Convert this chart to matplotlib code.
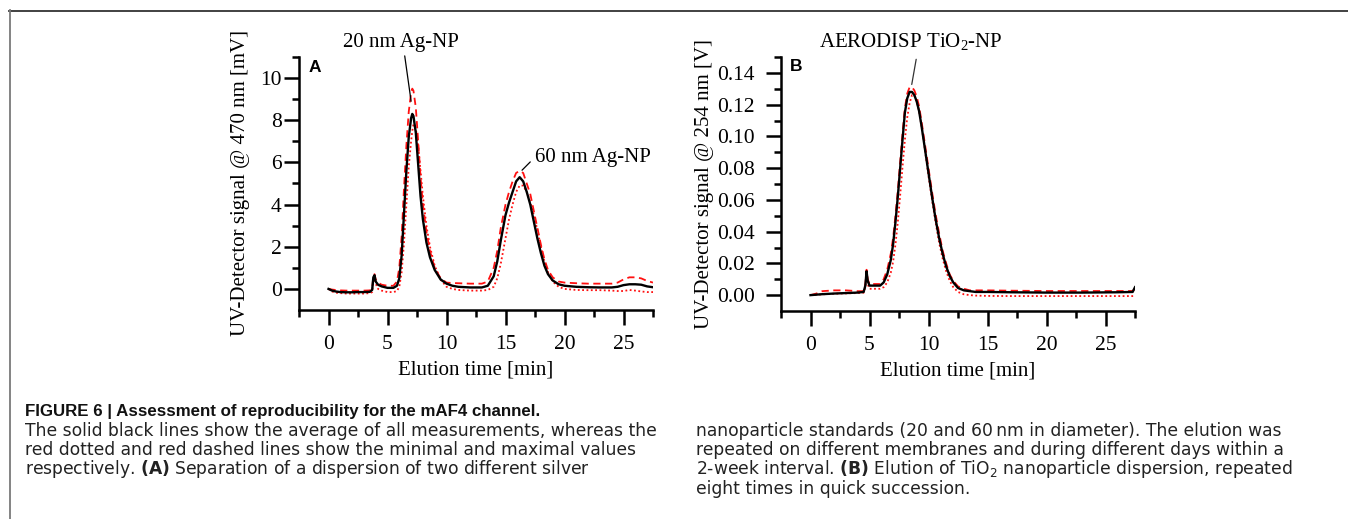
import matplotlib
matplotlib.use('Agg')
import matplotlib.pyplot as plt
from matplotlib.ticker import FixedLocator, FixedFormatter
from matplotlib.lines import Line2D

plt.rcParams['font.family'] = ['Liberation Serif', 'DejaVu Serif']
plt.rcParams['mathtext.fontset'] = 'custom'
plt.rcParams['mathtext.rm'] = 'DejaVu Sans'
plt.rcParams['mathtext.bf'] = 'DejaVu Sans:bold'

# ---------------- data ----------------
# Panel A: Ag-NP separation (signal in mV)
time_a = [0, 0.3, 0.6, 1, 1.5, 2, 2.5, 3, 3.5, 3.7, 3.8, 3.9, 4.0, 4.2, 4.5, 5.0, 5.5, 5.8,
          6.0, 6.2, 6.4, 6.6, 6.8, 7.0, 7.1, 7.2, 7.4, 7.6, 7.8, 8.0, 8.3, 8.6, 9.0, 9.5,
          10, 10.5, 11, 12, 13, 13.5, 14, 14.3, 14.6, 15, 15.3, 15.6, 15.9, 16.2, 16.5,
          16.8, 17.1, 17.4, 17.7, 18, 18.3, 18.6, 19, 19.5, 20, 21, 22, 23, 24, 24.5, 25,
          25.5, 26, 26.5, 27, 27.5]
avg_a = [0.0, -0.08, -0.12, -0.15, -0.16, -0.16, -0.15, -0.15, -0.14, -0.05, 0.55, 0.65,
         0.35, 0.2, 0.12, 0.05, 0.05, 0.15,
         0.5, 1.6, 3.6, 5.6, 7.2, 8.1, 8.3, 8.2, 7.4, 5.9, 4.4, 3.3, 2.2, 1.5, 0.9, 0.45,
         0.25, 0.15, 0.1, 0.07, 0.07, 0.15, 0.6, 1.3, 2.3, 3.5, 4.1, 4.6, 5.1, 5.3, 5.1,
         4.6, 4.0, 3.2, 2.4, 1.7, 1.1, 0.7, 0.4, 0.22, 0.15, 0.1, 0.08, 0.07, 0.07, 0.1, 0.18,
         0.22, 0.22, 0.2, 0.12, 0.08]
max_a = [0.0, -0.03, -0.05, -0.07, -0.08, -0.08, -0.08, -0.08, -0.07, 0.0, 0.6, 0.7,
         0.45, 0.3, 0.2, 0.15, 0.15, 0.35,
         1.0, 2.5, 4.8, 6.8, 8.4, 9.3, 9.5, 9.4, 8.6, 7.0, 5.3, 4.0, 2.7, 1.8, 1.0, 0.5,
         0.3, 0.28, 0.27, 0.25, 0.25, 0.35, 1.0, 1.8, 2.9, 4.0, 4.6, 5.1, 5.5, 5.6, 5.5,
         5.0, 4.5, 3.7, 2.9, 2.1, 1.4, 0.9, 0.55, 0.35, 0.3, 0.27, 0.25, 0.25, 0.25, 0.3, 0.45,
         0.55, 0.55, 0.5, 0.38, 0.3]
min_a = [0.0, -0.12, -0.18, -0.2, -0.22, -0.22, -0.22, -0.22, -0.2, -0.15, 0.35, 0.5,
         0.25, 0.0, -0.08, -0.15, -0.15, -0.1,
         0.1, 0.8, 2.2, 4.0, 5.8, 7.0, 7.5, 7.8, 7.6, 6.8, 5.6, 4.4, 3.0, 2.0, 1.1, 0.45,
         0.1, 0.0, -0.05, -0.08, -0.08, -0.05, 0.1, 0.5, 1.2, 2.4, 3.3, 4.0, 4.6, 4.9, 4.9,
         4.6, 4.1, 3.5, 2.8, 2.0, 1.3, 0.8, 0.35, 0.1, 0.0, -0.05, -0.06, -0.06, -0.08, -0.1, -0.1,
         -0.05, -0.08, -0.12, -0.15, -0.15]

# Panel B: TiO2-NP elution (signal in V)
time_b = [0, 0.5, 1, 2, 3, 4, 4.5, 4.65, 4.75, 4.85, 5.0, 5.3, 5.6, 5.9, 6.2, 6.5, 6.8,
          7.0, 7.2, 7.4, 7.6, 7.8, 8.0, 8.2, 8.4, 8.6, 8.8, 9.0, 9.2, 9.4, 9.6, 9.8, 10.0,
          10.3, 10.6, 10.9, 11.2, 11.5, 11.8, 12.1, 12.5, 13, 13.5, 14, 15, 17, 20, 23, 26,
          27.3, 27.5]
avg_b = [0.0, 0.0003, 0.0006, 0.001, 0.0013, 0.0016, 0.002, 0.006, 0.015, 0.009, 0.006,
         0.006, 0.006, 0.006, 0.008, 0.013, 0.022,
         0.032, 0.046, 0.062, 0.08, 0.098, 0.115, 0.124, 0.128, 0.128, 0.126, 0.122, 0.116,
         0.107, 0.097, 0.087, 0.077,
         0.062, 0.048, 0.036, 0.026, 0.018, 0.012, 0.008, 0.0045, 0.003, 0.0025, 0.002, 0.002,
         0.0018, 0.0016, 0.0016, 0.0018, 0.002, 0.005]
max_b = [0.0, 0.001, 0.0025, 0.003, 0.003, 0.0025, 0.0025, 0.007, 0.016, 0.01, 0.007,
         0.007, 0.007, 0.007, 0.01, 0.016, 0.026,
         0.036, 0.05, 0.066, 0.084, 0.102, 0.118, 0.127, 0.131, 0.131, 0.129, 0.125, 0.119,
         0.11, 0.1, 0.09, 0.08,
         0.065, 0.051, 0.039, 0.028, 0.02, 0.013, 0.009, 0.0055, 0.004, 0.003, 0.003, 0.003,
         0.0028, 0.0026, 0.0026, 0.0026, 0.0026, 0.004]
min_b = [0.0, 0.0002, 0.0005, 0.0009, 0.0011, 0.0013, 0.0015, 0.005, 0.013, 0.007, 0.004,
         0.004, 0.004, 0.004, 0.005, 0.008, 0.014,
         0.021, 0.032, 0.046, 0.063, 0.081, 0.098, 0.112, 0.121, 0.126, 0.126, 0.122, 0.116,
         0.107, 0.097, 0.086, 0.075,
         0.06, 0.046, 0.033, 0.023, 0.015, 0.009, 0.005, 0.002, 0.0005, 0.0, -0.0003, -0.0005,
         -0.0006, -0.0006, -0.0006, -0.0006, -0.0006, -0.0005]

x_major = [0, 5, 10, 15, 20, 25]
x_minor = [-2.5, 2.5, 7.5, 12.5, 17.5, 22.5, 27.5]
x_labels = ['0', '5', '10', '15', '20', '25']
ya_major = [0, 2, 4, 6, 8, 10]
ya_minor = [1, 3, 5, 7, 9, 11]
ya_labels = ['0', '2', '4', '6', '8', '10']
yb_major = [0.0, 0.02, 0.04, 0.06, 0.08, 0.10, 0.12, 0.14]
yb_minor = [0.01, 0.03, 0.05, 0.07, 0.09, 0.11, 0.13, 0.15]
yb_labels = ['0.00', '0.02', '0.04', '0.06', '0.08', '0.10', '0.12', '0.14']

caption_left = [
    ("FIGURE 6 | Assessment of reproducibility for the mAF4 channel.", 'bold'),
    ("The solid black lines show the average of all measurements, whereas the", 'normal'),
    ("red dotted and red dashed lines show the minimal and maximal values", 'normal'),
    ("respectively. $\\mathbf{(A)}$ Separation of a dispersion of two different silver", 'normal'),
]
caption_right = [
    ("nanoparticle standards (20 and 60\u2009nm in diameter). The elution was", 'normal'),
    ("repeated on different membranes and during different days within a", 'normal'),
    ("2-week interval. $\\mathbf{(B)}$ Elution of TiO$\\mathregular{_2}$ nanoparticle dispersion, repeated", 'normal'),
    ("eight times in quick succession.", 'normal'),
]

# ---------------- figure ----------------
W, H = 1348, 519
fig = plt.figure(figsize=(W / 100, H / 100), dpi=100)


def px_axes(l, t, r, b):
    return fig.add_axes([l / W, 1 - b / H, (r - l) / W, (b - t) / H])


axA = px_axes(299, 57, 653, 310)
axB = px_axes(781, 57, 1135, 311)

RED = '#ff1010'


def draw(ax, t, vmax, vmin, vavg):
    ax.plot(t, vmax, color=RED, lw=1.3, ls=(0, (4, 2.5)))
    ax.plot(t, vmin, color=RED, lw=1.3, ls=(0, (1, 1.4)))
    ax.plot(t, vavg, color='black', lw=1.7)


def style(ax, ylim, ymaj, ymin, ylab, ypad):
    for s in ['top', 'right']:
        ax.spines[s].set_visible(False)
    for s in ['left', 'bottom']:
        ax.spines[s].set_linewidth(1.8)
    ax.set_xlim(-2.5, 27.5)
    ax.set_ylim(*ylim)
    ax.xaxis.set_major_locator(FixedLocator(x_major))
    ax.xaxis.set_major_formatter(FixedFormatter(x_labels))
    ax.xaxis.set_minor_locator(FixedLocator(x_minor))
    ax.yaxis.set_major_locator(FixedLocator(ymaj))
    ax.yaxis.set_major_formatter(FixedFormatter(ylab))
    ax.yaxis.set_minor_locator(FixedLocator(ymin))
    ax.tick_params(which='major', direction='out', length=11, width=1.8, labelsize=15.5)
    ax.tick_params(which='minor', direction='out', length=5, width=1.8)
    ax.tick_params(axis='x', which='major', pad=7)
    ax.tick_params(axis='y', which='major', pad=ypad)
    ax.patch.set_visible(False)


draw(axA, time_a, max_a, min_a, avg_a)
draw(axB, time_b, max_b, min_b, avg_b)
style(axA, (-1, 11), ya_major, ya_minor, ya_labels, 1.5)
style(axB, (-0.01, 0.15), yb_major, yb_minor, yb_labels, 8)

for ax, lab, xc in [(axA, 'UV-Detector signal @ 470 nm [mV]', (241 - 299) / 354),
                    (axB, 'UV-Detector signal @ 254 nm [V]', (704 - 781) / 354)]:
    ax.set_xlabel('Elution time [min]', fontsize=15)
    ax.xaxis.label.set_va('center')
    ax.xaxis.set_label_coords(0.5, -(370 - 310) / 253)
    ax.set_ylabel(lab, fontsize=15)
    ax.yaxis.label.set_va('center')
    ax.yaxis.set_label_coords(xc, 0.5)

axA.text(0.028, 0.958, 'A', transform=axA.transAxes, fontsize=12.5, fontweight='bold',
         family='Liberation Sans', ha='left', va='center')
axB.text(0.025, 0.963, 'B', transform=axB.transAxes, fontsize=12.5, fontweight='bold',
         family='Liberation Sans', ha='left', va='center')

axA.annotate('20 nm Ag-NP', xy=(7.0, 8.9), xytext=(6.1, 11.7), fontsize=15,
             ha='center', va='center', annotation_clip=False,
             arrowprops=dict(arrowstyle='-', lw=0.9, color='black', shrinkA=1, shrinkB=0,
                             relpos=(0.52, 0.5)))
axA.annotate('60 nm Ag-NP', xy=(16.4, 5.63), xytext=(17.5, 6.25), fontsize=15,
             ha='left', va='center', annotation_clip=False,
             arrowprops=dict(arrowstyle='-', lw=0.9, color='black', shrinkA=-2, shrinkB=0,
                             relpos=(0.0, 0.5)))
axB.annotate('AERODISP TiO$\\mathregular{_2}$-NP', xy=(8.58, 0.1327), xytext=(8.5, 0.1595),
             fontsize=15, ha='center', va='center', annotation_clip=False,
             arrowprops=dict(arrowstyle='-', lw=0.9, color='#333333', shrinkA=3, shrinkB=0,
                             relpos=(0.546, 0.5)))

# figure frame lines (top and left)
fig.add_artist(Line2D([9 / W, 1.0], [1 - 10.5 / H, 1 - 10.5 / H], transform=fig.transFigure,
                      color='#333333', lw=1.3))
fig.add_artist(Line2D([9.5 / W, 9.5 / W], [1 - 10 / H, 0.0], transform=fig.transFigure,
                      color='#7a7a7a', lw=1.3))

# caption
left_y = [411, 431, 450, 469]
right_y = [431, 450, 469, 489]
for (txt, wt), y in zip(caption_left, left_y):
    if wt == 'bold':
        fam, size, col = ['Liberation Sans', 'DejaVu Sans'], 12.2, '#111111'
    else:
        fam, size, col = ['DejaVu Sans'], 12.3, '#222222'
    fig.text(25 / W, 1 - (y + 5) / H, txt, fontsize=size, fontweight=wt,
             family=fam, color=col, ha='left', va='baseline')
for (txt, wt), y in zip(caption_right, right_y):
    fig.text(696 / W, 1 - (y + 5) / H, txt, fontsize=12.3, fontweight=wt,
             family=['DejaVu Sans'], color='#222222', ha='left', va='baseline')

fig.savefig('out.png', dpi=100)
